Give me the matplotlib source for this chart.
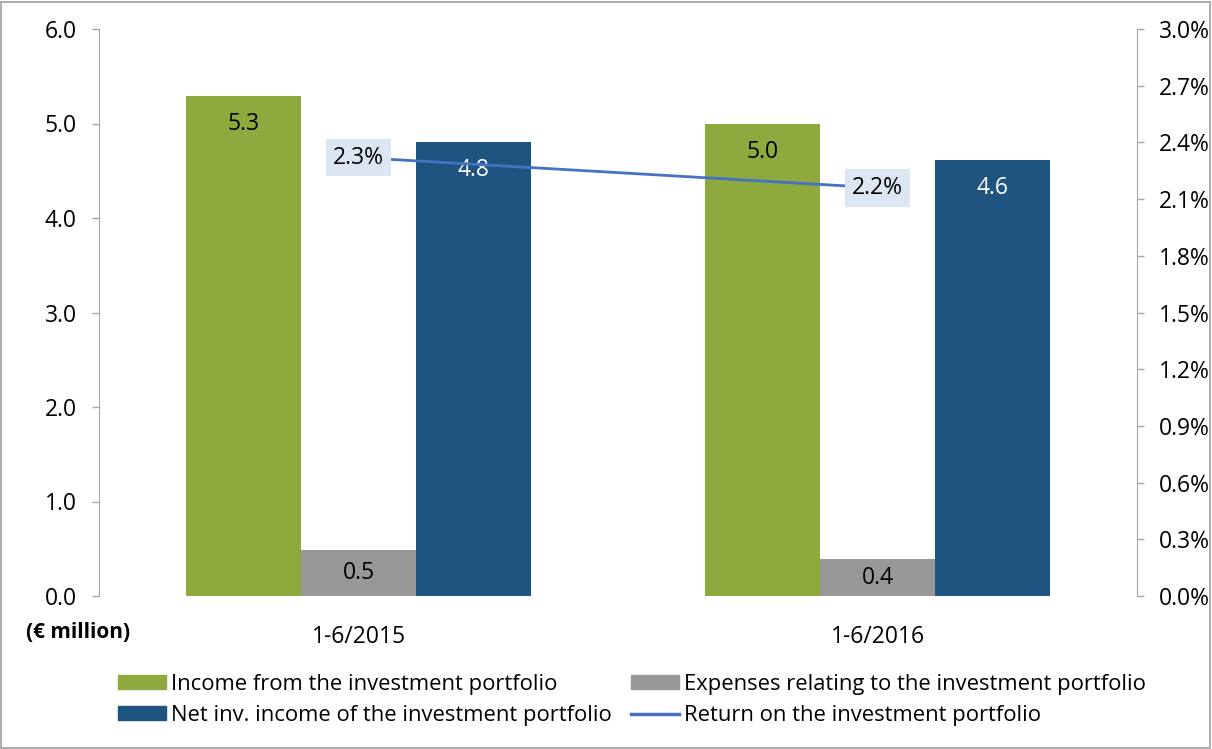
import matplotlib
matplotlib.use("Agg")
import matplotlib.pyplot as plt
from matplotlib.patches import Rectangle, Patch
from matplotlib.lines import Line2D
from matplotlib.ticker import FuncFormatter, MultipleLocator
import numpy as np

plt.rcParams['font.family'] = ['Open Sans', 'DejaVu Sans']

categories = ["1-6/2015", "1-6/2016"]
income = [5.29, 4.99]
expenses = [0.49, 0.39]
net_income = [4.80, 4.61]
return_pct = [2.32, 2.16]
income_labels = ["5.3", "5.0"]
expenses_labels = ["0.5", "0.4"]
net_labels = ["4.8", "4.6"]
return_labels = ["2.3%", "2.2%"]
left_ticks = [0.0, 1.0, 2.0, 3.0, 4.0, 5.0, 6.0]

series_names = ["Income from the investment portfolio",
                "Expenses relating to the investment portfolio",
                "Net inv. income of the investment portfolio",
                "Return on the investment portfolio"]

c_green = '#8eaa3e'
c_gray = '#989898'
c_blue = '#1f5480'
c_line = '#4472c4'
c_spine = '#a6a6a6'
FS = 16.5
LFS = 15.8

fig = plt.figure(figsize=(12.12, 7.49), dpi=100)
ax = fig.add_axes([99/1212, 1-596/749, (1137-99)/1212, (596-29)/749])
x = np.arange(len(categories))
w = 0.222

b1 = ax.bar(x - w, income, w, color=c_green, zorder=2)
b2 = ax.bar(x, expenses, w, color=c_gray, zorder=2)
b3 = ax.bar(x + w, net_income, w, color=c_blue, zorder=2)

for bars, labs, col in [(b1, income_labels, 'black'), (b3, net_labels, 'white')]:
    for r, lab in zip(bars, labs):
        ax.annotate(lab, (r.get_x() + r.get_width()/2, r.get_height()),
                    xytext=(0, -20), textcoords='offset points',
                    ha='center', va='center', fontsize=FS, color=col, zorder=5)
for r, lab in zip(b2, expenses_labels):
    ax.text(r.get_x() + r.get_width()/2, r.get_height()/2, lab,
            ha='center', va='center', fontsize=FS, color='black', zorder=5)

ax.set_xlim(-0.5, 1.5)
ax.set_ylim(0, 6)
ax.set_yticks(left_ticks)
ax.yaxis.set_major_formatter(FuncFormatter(lambda v, p: f"{v:.1f}"))
ax.set_xticks(x)
ax.set_xticklabels(categories, fontsize=FS)
ax.tick_params(axis='x', length=0, pad=21)
ax.tick_params(axis='y', length=5, width=1, color=c_spine, labelsize=FS, pad=11)
for s in ['top', 'bottom']:
    ax.spines[s].set_visible(False)
ax.spines['left'].set_color(c_spine)
ax.spines['right'].set_visible(False)

ax2 = ax.twinx()
ax2.set_ylim(0, 3.0)
ax2.yaxis.set_major_locator(MultipleLocator(0.3))
ax2.yaxis.set_major_formatter(FuncFormatter(lambda v, p: f"{v:.1f}%"))
ax2.tick_params(axis='y', length=5, width=1, color=c_spine, labelsize=FS, pad=11)
for s in ['top', 'bottom', 'left']:
    ax2.spines[s].set_visible(False)
ax2.spines['right'].set_color(c_spine)
ax2.plot(x, return_pct, color=c_line, lw=2.0, zorder=3)
for xi, yi, lab in zip(x, return_pct, return_labels):
    ax2.text(xi, yi, lab, ha='center', va='center', fontsize=FS, color='black', zorder=6,
             bbox=dict(boxstyle='square,pad=0.3', fc='#dce6f2', ec='none'))

fig.text(26/1212, 1-632/749, "(€ million)", fontsize=15, fontweight='bold', ha='left', va='center')

handles = [Patch(color=c_green), Patch(color=c_blue), Patch(color=c_gray),
           Line2D([0], [0], color=c_line, lw=2.5)]
labels = [series_names[0], series_names[2], series_names[1], series_names[3]]
fig.legend(handles, labels, ncol=2, frameon=False, fontsize=LFS,
           loc='center left', bbox_to_anchor=(118/1212, 1-700/749),
           borderpad=0, borderaxespad=0, handlelength=2.2, handleheight=0.6,
           handletextpad=0.22, columnspacing=0.85, labelspacing=0.45)

fig.add_artist(Rectangle((1/1212, 1/749), 1-3/1212, 1-3/749, transform=fig.transFigure,
                         fill=False, ec='#a0a0a0', lw=1.2))

fig.savefig("out.png", dpi=100)
